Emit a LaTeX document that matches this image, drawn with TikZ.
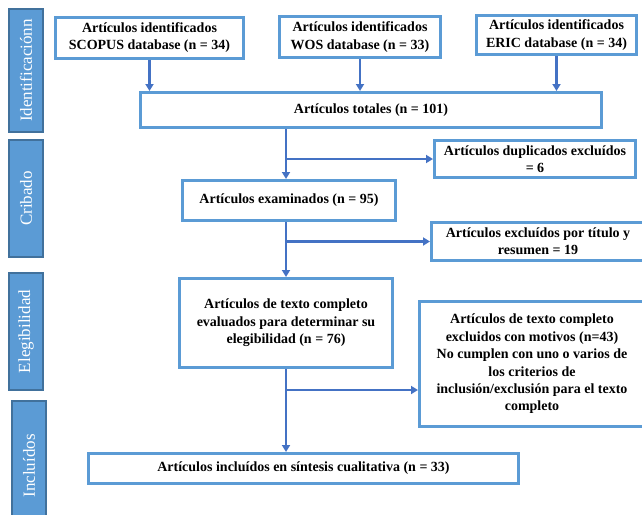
\documentclass[tikz,border=0pt]{standalone}
\usepackage{fontspec}
\setmainfont{Liberation Serif}
\usetikzlibrary{arrows.meta}
\definecolor{caja}{HTML}{5B9BD5}
\definecolor{flechacol}{HTML}{4472C4}
\definecolor{bordefase}{HTML}{41719C}
\begin{document}
\begin{tikzpicture}[x=1pt, y=-1pt,
    every node/.style={font=\fontsize{14}{17.4}\selectfont\bfseries, align=center, inner sep=0pt},
    caja/.style={draw=caja, line width=3pt, fill=white},
    fase/.style={draw=bordefase, line width=1.5pt, fill=caja, text=white, rotate=90,
                 font=\fontsize{17}{19}\selectfont},
    flecha/.style={draw=flechacol, line width=2.5pt, -{Triangle[length=7pt,width=8pt]}},
    linea/.style={draw=flechacol, line width=2.5pt}]
    \useasboundingbox (0,0) rectangle (642,514);

    % fases
    \node[fase, minimum width=123, minimum height=34] (identificacion) at (26,70.5) {Identificaciónn};
    \node[fase, minimum width=117, minimum height=34] (cribado) at (26,198.5) {Cribado};
    \node[fase, minimum width=117, minimum height=34] (elegibilidad) at (26,331.5) {Elegibilidad};
    \node[fase, minimum width=130, minimum height=34] (incluidos) at (29,466) {Incluídos};

    % cajas
    \node[caja, minimum width=188, minimum height=41] (scopus) at (149.5,37.5) {Artículos identificados\\SCOPUS database (n = 34)};
    \node[caja, minimum width=161, minimum height=41] (wos) at (360,37) {Artículos identificados\\WOS database (n = 33)};
    \node[caja, minimum width=160, minimum height=39] (eric) at (556.5,35) {Artículos identificados\\ERIC database (n = 34)};
    \node[caja, minimum width=461, minimum height=35] (totales) at (371,110) {Artículos totales (n = 101)};
    \node[caja, minimum width=201, minimum height=37] (duplicados) at (535,159) {Artículos duplicados excluídos\\= 6};
    \node[caja, minimum width=213, minimum height=40] (examinados) at (289,200.5) {Artículos examinados (n = 95)};
    \node[caja, minimum width=213, minimum height=38] (resumen) at (538,241.5) {Artículos excluídos por título y\\resumen = 19};
    \node[caja, minimum width=213, minimum height=89] (evaluados) at (286,323) {Artículos de texto completo\\evaluados para determinar su\\elegibilidad (n = 76)};
    \node[caja, minimum width=225, minimum height=125] (motivos) at (532,364) {Artículos de texto completo\\excluidos con motivos (n=43)\\No cumplen con uno o varios de\\los criterios de\\inclusión/exclusión para el texto\\completo};
    \node[caja, minimum width=430, minimum height=30] (sintesis) at (303.5,468.5) {Artículos incluídos en síntesis cualitativa (n = 33)};

    % conectores
    \draw[flecha] (scopus) -- (scopus |- totales.north);
    \draw[flecha] (wos) -- (wos |- totales.north);
    \draw[flecha] (eric) -- (eric |- totales.north);

    \coordinate (r1) at (evaluados.center |- duplicados.west);
    \coordinate (r2) at (evaluados.center |- resumen.west);
    \coordinate (r3) at (evaluados.center |- 0,390);

    \draw[flecha] (totales.south -| evaluados.center) -- (examinados.north -| evaluados.center);
    \draw[flecha] (r1) -- (duplicados.west);
    \draw[flecha] (examinados.south -| evaluados.center) -- (evaluados.north);
    \draw[flecha] (r2) -- (resumen.west);
    \draw[flecha] (evaluados.south) -- (sintesis.north -| evaluados.center);
    \draw[flecha] (r3) -- (r3 -| motivos.west);
\end{tikzpicture}
\end{document}
